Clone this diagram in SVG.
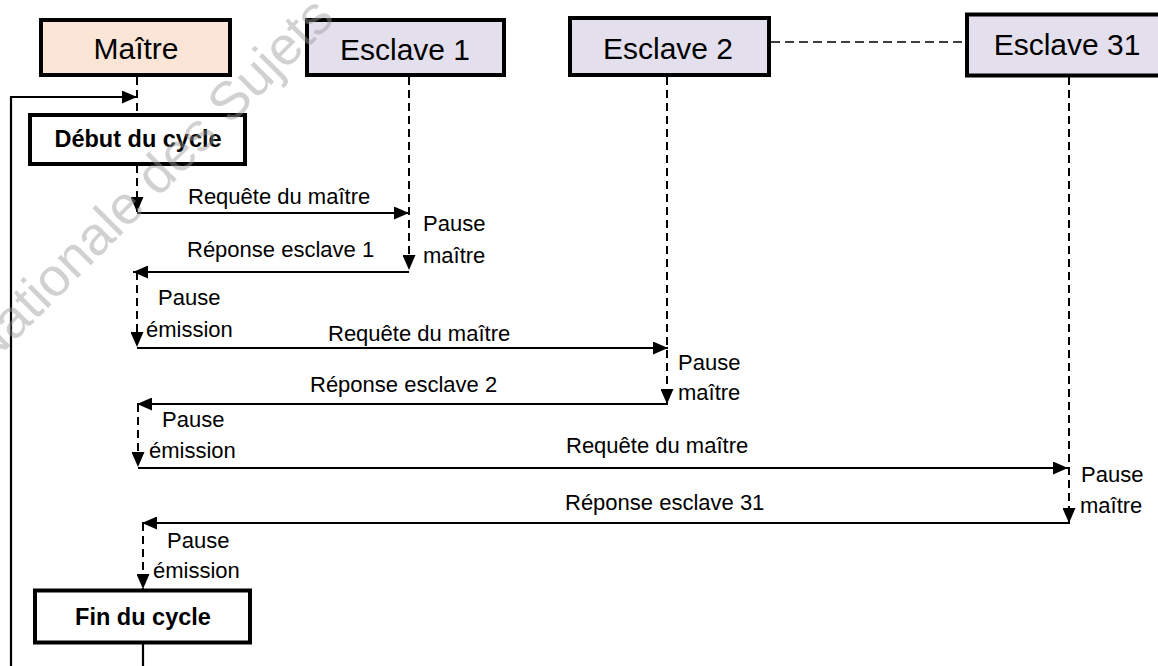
<svg xmlns="http://www.w3.org/2000/svg" width="1158" height="666" viewBox="0 0 1158 666">
  <style>
    .bg { fill: #ffffff; }
    .head { stroke: #000; stroke-width: 4; }
    .master { fill: #FBE5D6; }
    .slave { fill: #E4DFEC; }
    .step { fill: #ffffff; stroke: #000; stroke-width: 4; }
    .title { font-family: "Liberation Sans", Arial, sans-serif; font-size: 30px; fill: #000; text-anchor: middle; }
    .steptxt { font-family: "Liberation Sans", Arial, sans-serif; font-size: 23.5px; font-weight: bold; fill: #000; text-anchor: middle; }
    .lbl { font-family: "Liberation Sans", Arial, sans-serif; font-size: 22px; fill: #000; }
    .msg { fill: none; stroke: #000; stroke-width: 2.2; }
    .life { fill: none; stroke: #000; stroke-width: 2; stroke-dasharray: 8 5; }
    .link { fill: none; stroke: #000; stroke-width: 1.6; stroke-dasharray: 9 5; }
    .wm { font-family: "Liberation Sans", Arial, sans-serif; font-size: 54px; fill: #9a9a9a; fill-opacity: 0.45; }
  </style>
  <defs>
    <marker id="arrow" markerUnits="userSpaceOnUse" markerWidth="15" markerHeight="13" refX="15" refY="6.5" orient="auto">
      <path d="M0,0 L15,6.5 L0,13 Z" fill="#000"/>
    </marker>
  </defs>

  <rect class="bg" x="0" y="0" width="1158" height="666"/>

  <!-- connectors -->
  <g id="connectors">
    <!-- lifelines -->
    <path class="life" d="M137,77 V113"/>
    <path class="life" d="M137,165 V212" marker-end="url(#arrow)"/>
    <path class="life" d="M409,77 V270" marker-end="url(#arrow)"/>
    <path class="life" d="M667,77 V404" marker-end="url(#arrow)"/>
    <path class="life" d="M1069,77 V523" marker-end="url(#arrow)"/>
    <path class="link" d="M771,42 H966"/>

    <!-- cycle loop -->
    <path class="msg" d="M11,666 V97 H137" marker-end="url(#arrow)"/>
    <path class="msg" d="M143,643 V666"/>

    <!-- exchange with slave 1 -->
    <path class="msg" d="M137,213 H409" marker-end="url(#arrow)"/>
    <path class="msg" d="M409,272 H133" marker-end="url(#arrow)"/>
    <path class="life" d="M137,272 V347" marker-end="url(#arrow)"/>

    <!-- exchange with slave 2 -->
    <path class="msg" d="M137,348 H668" marker-end="url(#arrow)"/>
    <path class="msg" d="M668,404 H137" marker-end="url(#arrow)"/>
    <path class="life" d="M138,404 V467" marker-end="url(#arrow)"/>

    <!-- exchange with slave 31 -->
    <path class="msg" d="M138,468 H1068" marker-end="url(#arrow)"/>
    <path class="msg" d="M1070,523 H142" marker-end="url(#arrow)"/>
    <path class="life" d="M143,523 V589" marker-end="url(#arrow)"/>
  </g>

  <!-- message labels -->
  <g id="labels" class="lbl">
    <text x="188" y="204">Requête du maître</text>
    <text x="423" y="231">Pause</text>
    <text x="423" y="263">maître</text>
    <text x="187" y="257">Réponse esclave 1</text>
    <text x="158" y="305">Pause</text>
    <text x="146" y="337">émission</text>

    <text x="328" y="341">Requête du maître</text>
    <text x="678" y="370">Pause</text>
    <text x="678" y="400">maître</text>
    <text x="310" y="392">Réponse esclave 2</text>
    <text x="162" y="427">Pause</text>
    <text x="149" y="458">émission</text>

    <text x="566" y="453">Requête du maître</text>
    <text x="1081" y="482">Pause</text>
    <text x="1080" y="513">maître</text>
    <text x="565" y="510">Réponse esclave 31</text>
    <text x="167" y="548">Pause</text>
    <text x="153" y="578">émission</text>
  </g>

  <!-- participants -->
  <g id="maitre">
    <rect class="head master" x="41" y="20" width="189" height="55"/>
    <text class="title" x="136" y="59">Maître</text>
  </g>
  <g id="esclave1">
    <rect class="head slave" x="307" y="20" width="197" height="55"/>
    <text class="title" x="405" y="60">Esclave 1</text>
  </g>
  <g id="esclave2">
    <rect class="head slave" x="570" y="18" width="199" height="57"/>
    <text class="title" x="668" y="59">Esclave 2</text>
  </g>
  <g id="esclave31">
    <rect class="head slave" x="967" y="14.5" width="200" height="61"/>
    <text class="title" x="1067" y="55">Esclave 31</text>
  </g>

  <!-- cycle markers -->
  <g id="debut">
    <rect class="step" x="30" y="115" width="215" height="49"/>
    <text class="steptxt" x="138" y="147">Début du cycle</text>
  </g>
  <g id="fin">
    <rect class="step" x="35" y="590.5" width="215" height="52"/>
    <text class="steptxt" x="143" y="625">Fin du cycle</text>
  </g>

  <!-- translucent stamp laid over the page -->
  <text class="wm" x="-14" y="370" transform="rotate(-45 -14 370)">Nationale des Sujets</text>
</svg>
